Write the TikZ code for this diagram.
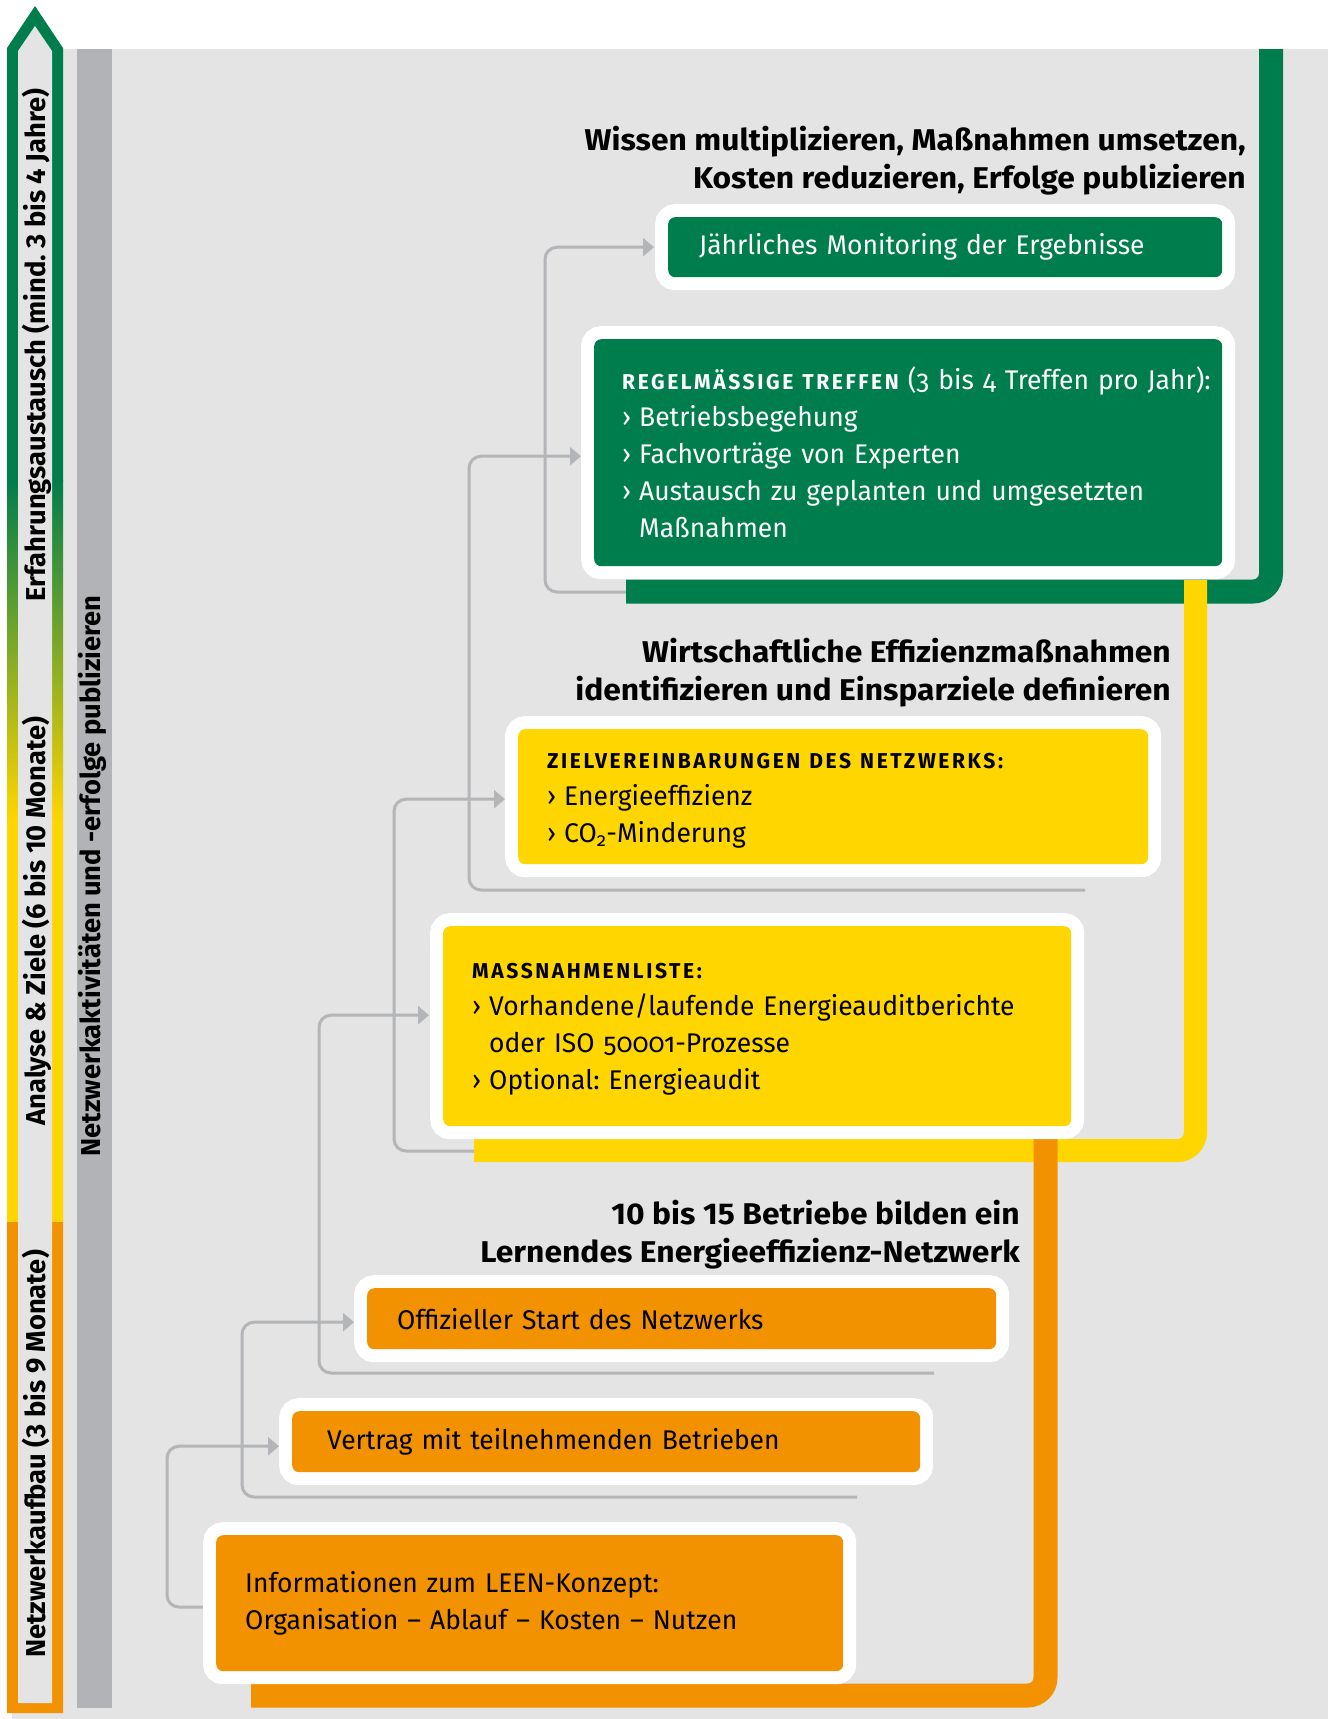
\documentclass[tikz,border=0pt]{standalone}
\usepackage{fontspec}
\setmainfont{Fira Sans}
\newfontfamily\bodyfont[FakeStretch=0.98,Numbers=OldStyle]{Fira Sans}
\newfontfamily\labfont{Fira Sans}
\newfontfamily\ttlfont[FakeStretch=1.06]{Fira Sans}
\usetikzlibrary{arrows.meta}
\pgfdeclarelayer{back}
\pgfdeclarelayer{mid}
\pgfsetlayers{back,mid,main}
\definecolor{cGreen}{RGB}{0,125,76}
\definecolor{cYellow}{RGB}{255,214,0}
\definecolor{cOrange}{RGB}{243,146,0}
\definecolor{cBg}{RGB}{227,228,227}
\definecolor{cBar}{RGB}{178,179,182}
\definecolor{cConn}{RGB}{180,181,184}
\newcommand\lb{\makebox[17pt][l]{›}}
\newcommand\hd[1]{{\bfseries\fontsize{21.5}{37}\selectfont\addfontfeature{LetterSpace=12}#1}}
\frenchspacing
\begin{document}
\begin{tikzpicture}[x=1pt,y=-1pt,
  box/.style={rounded corners=7pt, preaction={draw=white, line width=26pt}, inner ysep=0pt,
    align=left, anchor=north west, font=\bodyfont\fontsize{27}{37}\selectfont\frenchspacing},
  gbox/.style={box, fill=cGreen, text=white},
  ybox/.style={box, fill=cYellow, text=black},
  obox/.style={box, fill=cOrange, text=black},
  ttl/.style={align=right, anchor=base east, inner sep=0pt, font=\ttlfont\bfseries\fontsize{30}{38}\selectfont},
  lab/.style={rotate=90, anchor=base, inner sep=0pt, font=\labfont\bfseries\fontsize{27.3}{30}\selectfont},
  conn/.style={draw=cConn, line width=3pt, rounded corners=12pt, -{Triangle[length=11pt,width=18pt]}},
  band/.style={line width=24pt, rounded corners=18pt}]
\useasboundingbox (0,0) rectangle (1332,1719);

% boxes
\node[gbox, inner xsep=31pt, text width=492pt, minimum height=60pt] (jm) at (668,217) {Jährliches Monitoring der Ergebnisse};
\node[gbox, inner xsep=28pt, text width=572pt, minimum height=227pt] (rt) at (594,339)
  {\mbox{\hd{REGELMÄSSIGE TREFFEN} (3 bis 4 Treffen pro Jahr):}\\ \lb Betriebsbegehung\\ \lb Fachvorträge von Experten\\ \lb Austausch zu geplanten und umgesetzten\\ \hspace*{17pt}Maßnahmen};
\node[ybox, inner xsep=29pt, text width=572pt, minimum height=135pt] (zv) at (518,729)
  {\rule{0pt}{24pt}\hd{ZIELVEREINBARUNGEN DES NETZWERKS:}\\ \lb Energieeffizienz\\ \lb CO\textsubscript{2}-Minderung};
\node[ybox, inner xsep=29pt, text width=570pt, minimum height=200pt] (mn) at (443,926)
  {\rule{0pt}{22pt}\hd{MASSNAHMENLISTE:}\\ \lb Vorhandene/laufende Energieauditberichte\\ \hspace*{17pt}oder ISO 50001-Prozesse\\ \lb Optional: Energieaudit};
\node[obox, inner xsep=30pt, text width=569pt, minimum height=61pt] (os) at (367,1288) {Offizieller Start des Netzwerks};
\node[obox, inner xsep=35pt, text width=558pt, minimum height=61pt] (vt) at (292,1411) {Vertrag mit teilnehmenden Betrieben};
\node[obox, inner xsep=29pt, text width=569pt, minimum height=136pt] (inf) at (216,1535)
  {Informationen zum LEEN-Konzept:\\ Organisation – Ablauf – Kosten – Nutzen};

% titles (anchor = baseline of last line)
\node[ttl] (t1) at (1246,188) {Wissen multiplizieren, Maßnahmen umsetzen,\\Kosten reduzieren, Erfolge publizieren};
\node[ttl] (t2) at (1171,700) {Wirtschaftliche Effizienzmaßnahmen\\identifizieren und Einsparziele definieren};
\node[ttl] (t3) at (1020,1262) {10 bis 15 Betriebe bilden ein\\Lernendes Energieeffizienz-Netzwerk};

% side labels
\node[lab] (l1) at (45,345) {Erfahrungsaustausch (mind. 3 bis 4 Jahre)};
\node[lab] (l2) at (45,921) {Analyse \& Ziele (6 bis 10 Monate)};
\node[lab] (l3) at (45,1454) {Netzwerkaufbau (3 bis 9 Monate)};
\node[lab] (l4) at (100,876) {Netzwerkaktivitäten und -erfolge publizieren};

\begin{pgfonlayer}{back}
\fill[cBg] (12,49) rectangle (1328,1719);
\begin{scope}
\clip (7,1713) -- (7,48) -- (35,6) -- (63,48) -- (63,1713) -- cycle;
\fill[cGreen] (0,0) rectangle (70,481);
\shade[top color=cGreen, bottom color=cYellow] (0,480) rectangle (70,821);
\fill[cYellow] (0,820) rectangle (70,1223);
\fill[cOrange] (0,1222) rectangle (70,1720);
\end{scope}
\fill[cBg] (18,1703) -- (18,51) -- (35,26) -- (52,51) -- (52,1703) -- cycle;
\fill[cBar] (77,49) rectangle (112,1708);
\end{pgfonlayer}

\begin{pgfonlayer}{mid}
\coordinate (c6s) at (700,592);
\coordinate (c5s) at (1085,890);
\coordinate (c4s) at (600,1151);
\coordinate (c3s) at (934,1373);
\coordinate (c2s) at (857,1497);
\draw[conn] (c6s) -- (545,592) |- ([xshift=-14pt]jm.west);
\draw[conn] (c5s) -- (469,890) |- ([xshift=-13pt,yshift=-3.5pt]rt.west);
\draw[conn] (c4s) -- (394,1151) |- ([xshift=-13pt,yshift=-2.5pt]zv.west);
\draw[conn] (c3s) -- (319,1373) |- ([xshift=-14pt,yshift=11pt]mn.west);
\draw[conn] (c2s) -- (242,1497) |- ([xshift=-13pt,yshift=-3.5pt]os.west);
\draw[conn] ([xshift=-13pt,yshift=-4pt]inf.west) -- (167,1607) |- ([xshift=-13pt,yshift=-4.5pt]vt.west);
\draw[band, cGreen] (1271,49) -- (1271,591.5) -- (626,591.5);
\draw[band, cYellow, line width=23pt] (1195.5,580) -- (1195.5,1150.5) -- (474,1150.5);
\draw[band, cOrange] (1045.5,1139) -- (1045.5,1695.5) -- (251,1695.5);
\end{pgfonlayer}
\end{tikzpicture}
\end{document}
